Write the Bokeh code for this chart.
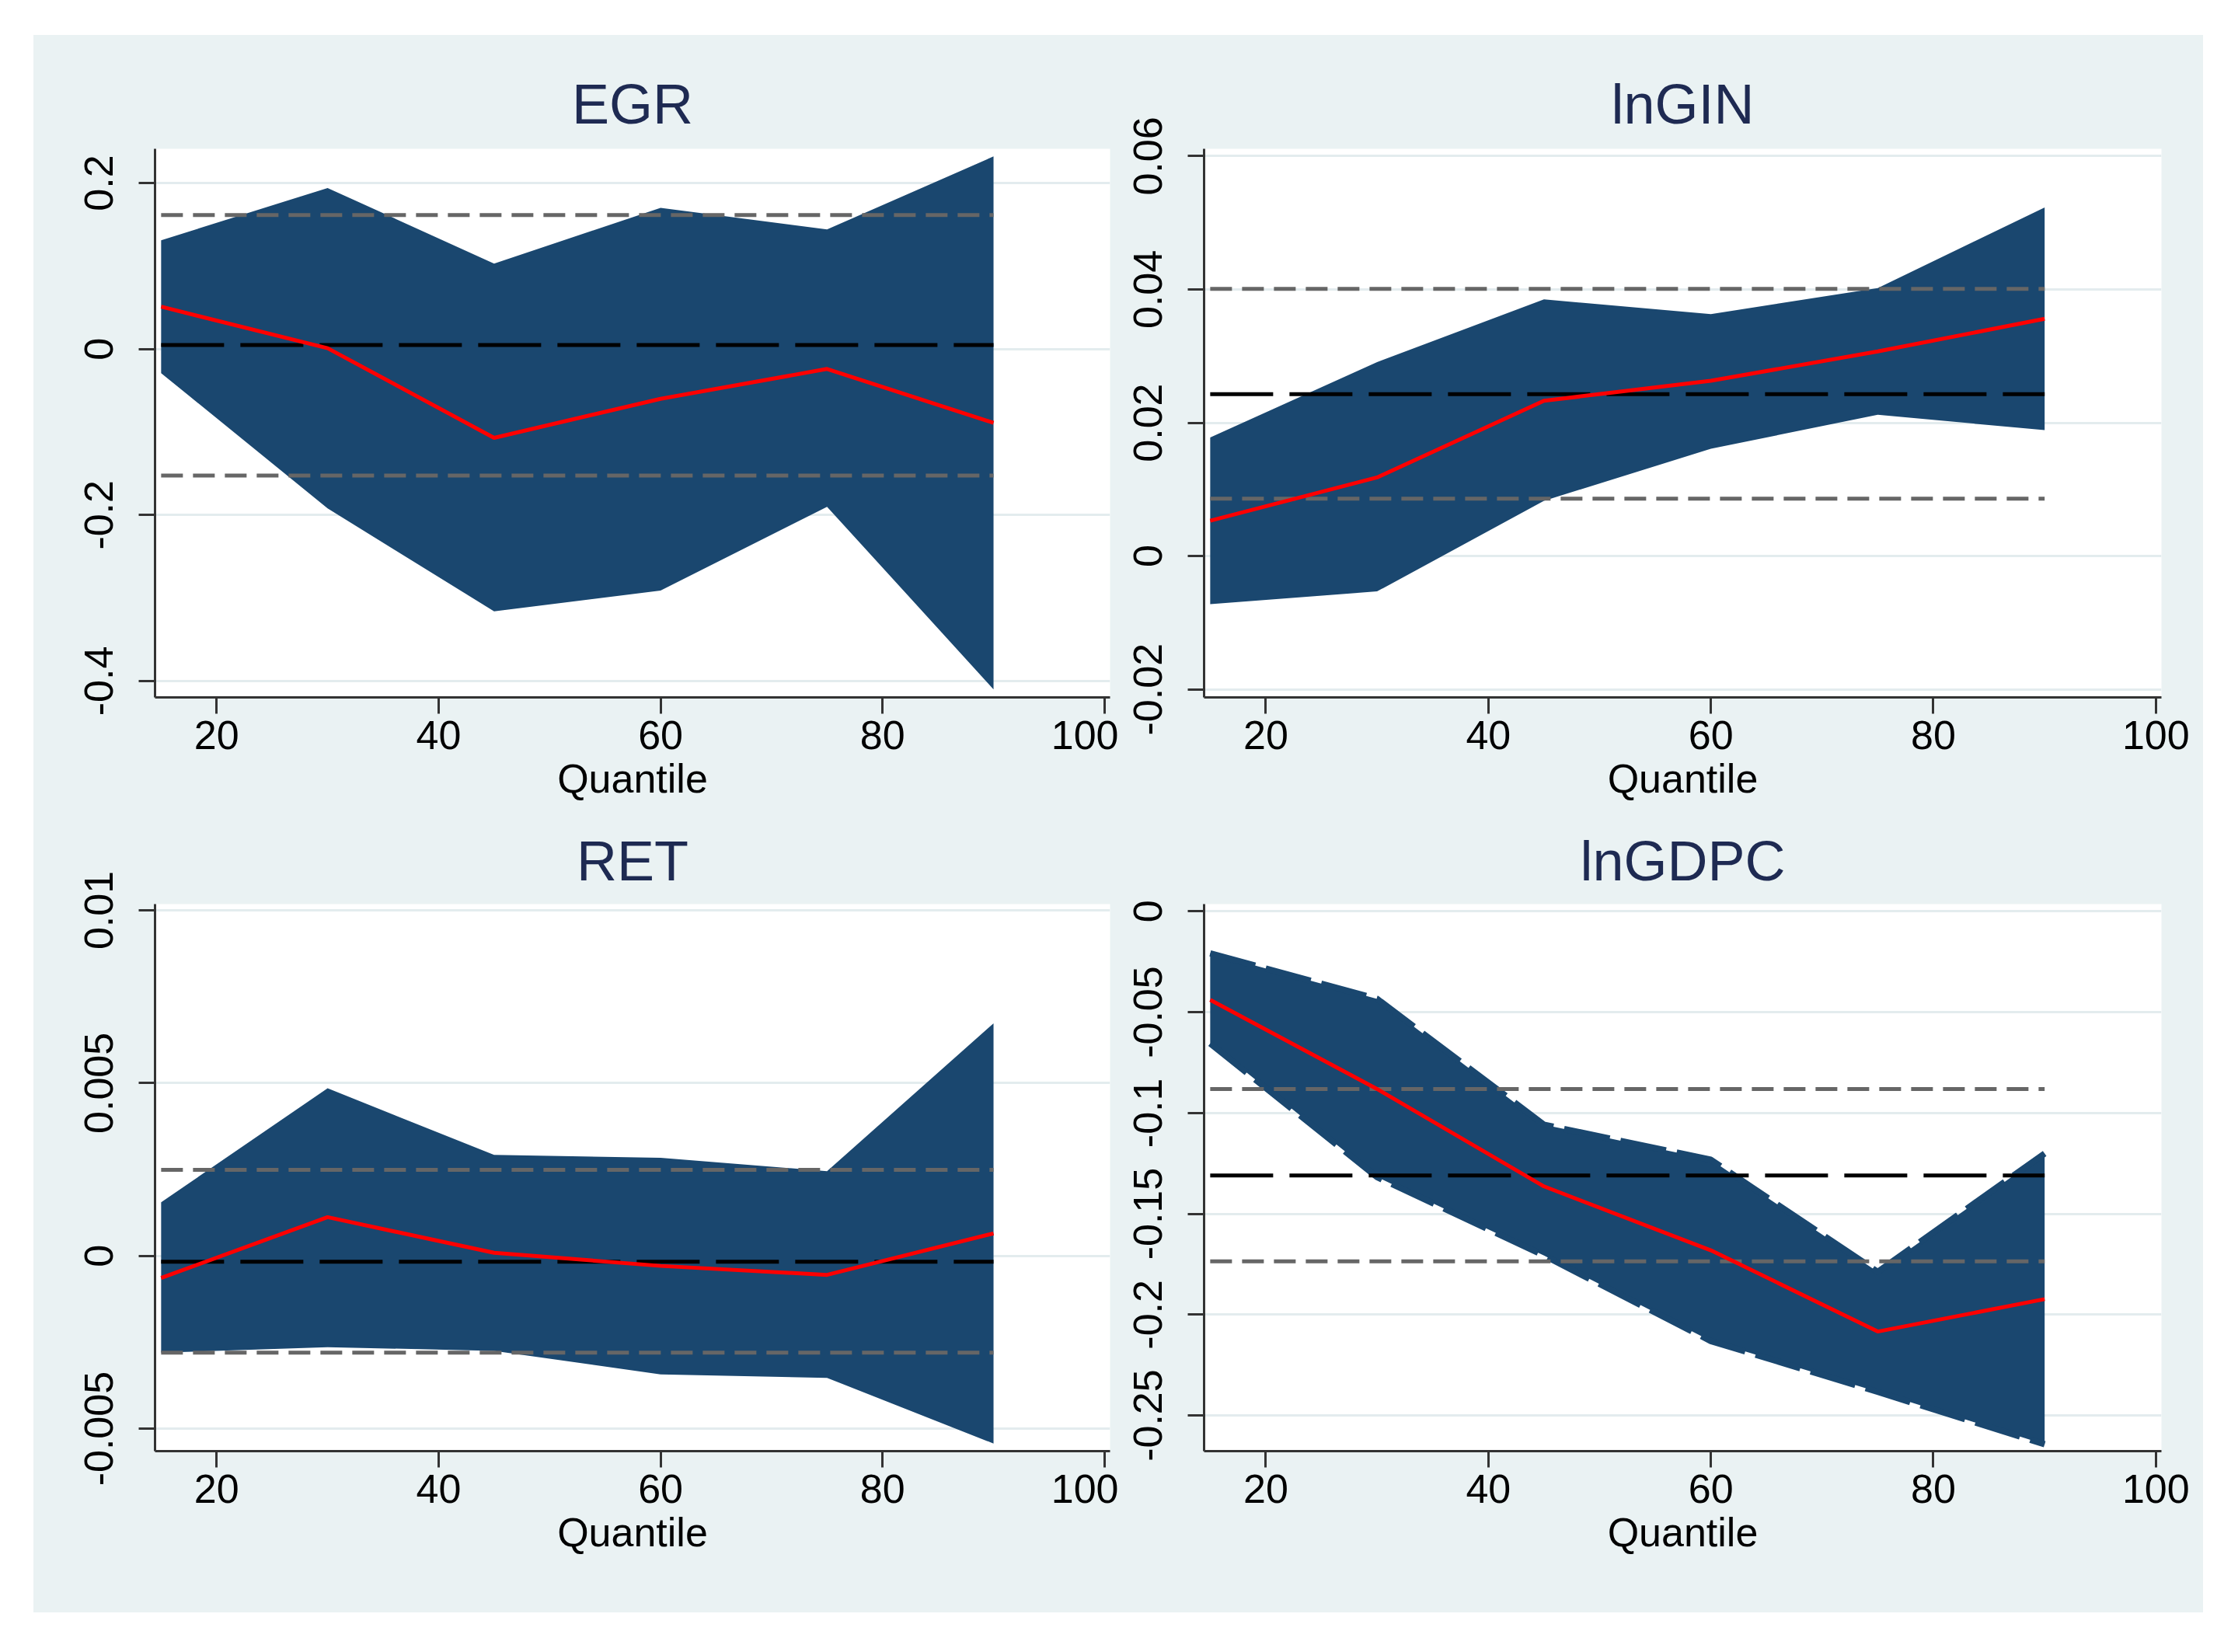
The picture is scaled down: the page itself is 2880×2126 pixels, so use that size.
from bokeh.plotting import figure
from bokeh.layouts import gridplot
from bokeh.models import FixedTicker
from bokeh.embed import file_html
from bokeh.resources import INLINE

# ---------------- data ----------------
quantiles = [15, 30, 45, 60, 75, 90]

egr_coef = [0.051, 0.001, -0.107, -0.060, -0.024, -0.089]
egr_lo = [-0.029, -0.192, -0.316, -0.291, -0.190, -0.410]
egr_hi = [0.131, 0.194, 0.103, 0.170, 0.144, 0.232]
egr_ols, egr_ols_lo, egr_ols_hi = 0.0048, -0.1525, 0.1613

lngin_coef = [0.0053, 0.0118, 0.0233, 0.0263, 0.0307, 0.0356]
lngin_lo = [-0.0072, -0.0053, 0.0083, 0.0161, 0.0212, 0.0189]
lngin_hi = [0.0178, 0.0291, 0.0385, 0.0363, 0.0402, 0.0523]
lngin_ols, lngin_ols_lo, lngin_ols_hi = 0.0243, 0.0086, 0.0401

ret_coef = [-0.00064, 0.00112, 0.00009, -0.00029, -0.00055, 0.00065]
ret_lo = [-0.0028, -0.00264, -0.00275, -0.00343, -0.00353, -0.00543]
ret_hi = [0.00155, 0.00485, 0.00292, 0.00284, 0.00245, 0.00673]
ret_ols, ret_ols_lo, ret_ols_hi = -0.00017, -0.0028, 0.00249

gdpc_coef = [-0.0439, -0.0881, -0.1364, -0.1681, -0.2084, -0.1923]
gdpc_lo = [-0.0655, -0.1318, -0.1707, -0.2131, -0.2383, -0.2643]
gdpc_hi = [-0.0208, -0.0434, -0.1058, -0.1232, -0.1788, -0.1201]
gdpc_ols, gdpc_ols_lo, gdpc_ols_hi = -0.131, -0.1736, -0.0881

x_ticks = [20, 40, 60, 80, 100]

egr_yticks = [-0.4, -0.2, 0, 0.2]
egr_ylabels = ["-0.4", "-0.2", "0", "0.2"]
lngin_yticks = [-0.02, 0, 0.02, 0.04, 0.06]
lngin_ylabels = ["-0.02", "0", "0.02", "0.04", "0.06"]
ret_yticks = [-0.005, 0, 0.005, 0.01]
ret_ylabels = ["-0.005", "0", "0.005", "0.01"]
gdpc_yticks = [-0.25, -0.2, -0.15, -0.1, -0.05, 0]
gdpc_ylabels = ["-0.25", "-0.2", "-0.15", "-0.1", "-0.05", "0"]

titles = ["EGR", "lnGIN", "RET", "lnGDPC"]

# ---------------- style ----------------
BG = "#EAF2F3"
NAVY = "#1A476F"
FONT = "Liberation Sans"


def make_panel(title, coef, lo, hi, ols, ols_lo, ols_hi, yr, yticks, ylabels,
               w, h, borders, title_gap, outlined=False):
    p = figure(width=w, height=h, x_range=(14.45, 100.5), y_range=yr,
               output_backend="svg", toolbar_location=None, tools="")
    p.min_border_left, p.min_border_right, p.min_border_top, p.min_border_bottom = borders
    p.background_fill_color = "white"
    p.border_fill_color = BG
    p.outline_line_color = None

    p.title.text = title
    p.title.align = "center"
    p.title.text_font = FONT
    p.title.text_font_size = "72px"
    p.title.text_font_style = "normal"
    p.title.text_color = "#1E2A52"
    p.title.standoff = title_gap

    p.xaxis.ticker = FixedTicker(ticks=x_ticks)
    p.yaxis.ticker = FixedTicker(ticks=yticks)
    p.yaxis.major_label_overrides = dict(zip(yticks, ylabels))
    p.yaxis.major_label_orientation = "vertical"
    p.xaxis.axis_label = "Quantile"
    p.xaxis.axis_label_text_font = FONT
    p.xaxis.axis_label_text_font_size = "52px"
    p.xaxis.axis_label_text_font_style = "normal"
    p.xaxis.axis_label_text_color = "black"
    p.xaxis.axis_label_standoff = 6
    for ax in (p.xaxis, p.yaxis):
        ax.major_label_text_font = FONT
        ax.major_label_text_font_size = "52px"
        ax.major_label_text_color = "black"
        ax.axis_line_color = "#333333"
        ax.axis_line_width = 3
        ax.major_tick_line_color = "#333333"
        ax.major_tick_line_width = 3
        ax.major_tick_out = 21
        ax.major_tick_in = 0
        ax.minor_tick_out = 0
        ax.minor_tick_in = 0
    p.xaxis.major_label_standoff = 9
    p.yaxis.major_label_standoff = 33

    p.xgrid.visible = False
    p.ygrid.grid_line_color = "#E3ECEE"
    p.ygrid.grid_line_width = 3

    p.varea(x=quantiles, y1=lo, y2=hi, fill_color=NAVY, fill_alpha=1.0)
    if outlined:
        p.line(quantiles, hi, line_color=NAVY, line_width=8, line_dash="60 14")
        p.line(quantiles, lo, line_color=NAVY, line_width=8, line_dash="60 14")

    xs = [quantiles[0], quantiles[-1]]
    p.line(xs, [ols_hi, ols_hi], line_color="#666666", line_width=5, line_dash="28 13")
    p.line(xs, [ols_lo, ols_lo], line_color="#666666", line_width=5, line_dash="28 13")
    p.line(xs, [ols, ols], line_color="black", line_width=5, line_dash="81 21")
    p.line(quantiles, coef, line_color="#FF0000", line_width=5)
    return p


p1 = make_panel(titles[0], egr_coef, egr_lo, egr_hi, egr_ols, egr_ols_lo, egr_ols_hi,
                (-0.4197, 0.2412), egr_yticks, egr_ylabels, 1396, 1004, (156, 11, 146, 152), 36)
p2 = make_panel(titles[1], lngin_coef, lngin_lo, lngin_hi, lngin_ols, lngin_ols_lo, lngin_ols_hi,
                (-0.0212, 0.0611), lngin_yticks, lngin_ylabels, 1396, 1004, (110, 54, 146, 152), 36)
p3 = make_panel(titles[2], ret_coef, ret_lo, ret_hi, ret_ols, ret_ols_lo, ret_ols_hi,
                (-0.00565, 0.01018), ret_yticks, ret_ylabels, 1396, 1026, (156, 11, 112, 208), 32)
p4 = make_panel(titles[3], gdpc_coef, gdpc_lo, gdpc_hi, gdpc_ols, gdpc_ols_lo, gdpc_ols_hi,
                (-0.2677, 0.0036), gdpc_yticks, gdpc_ylabels, 1396, 1026, (110, 54, 112, 208), 32,
                outlined=True)

grid = gridplot([[p1, p2], [p3, p4]], toolbar_location=None)
grid.margin = (45, 0, 0, 43)
grid.styles = {"background-color": BG}

open("out.html", "w").write(file_html(grid, INLINE))
